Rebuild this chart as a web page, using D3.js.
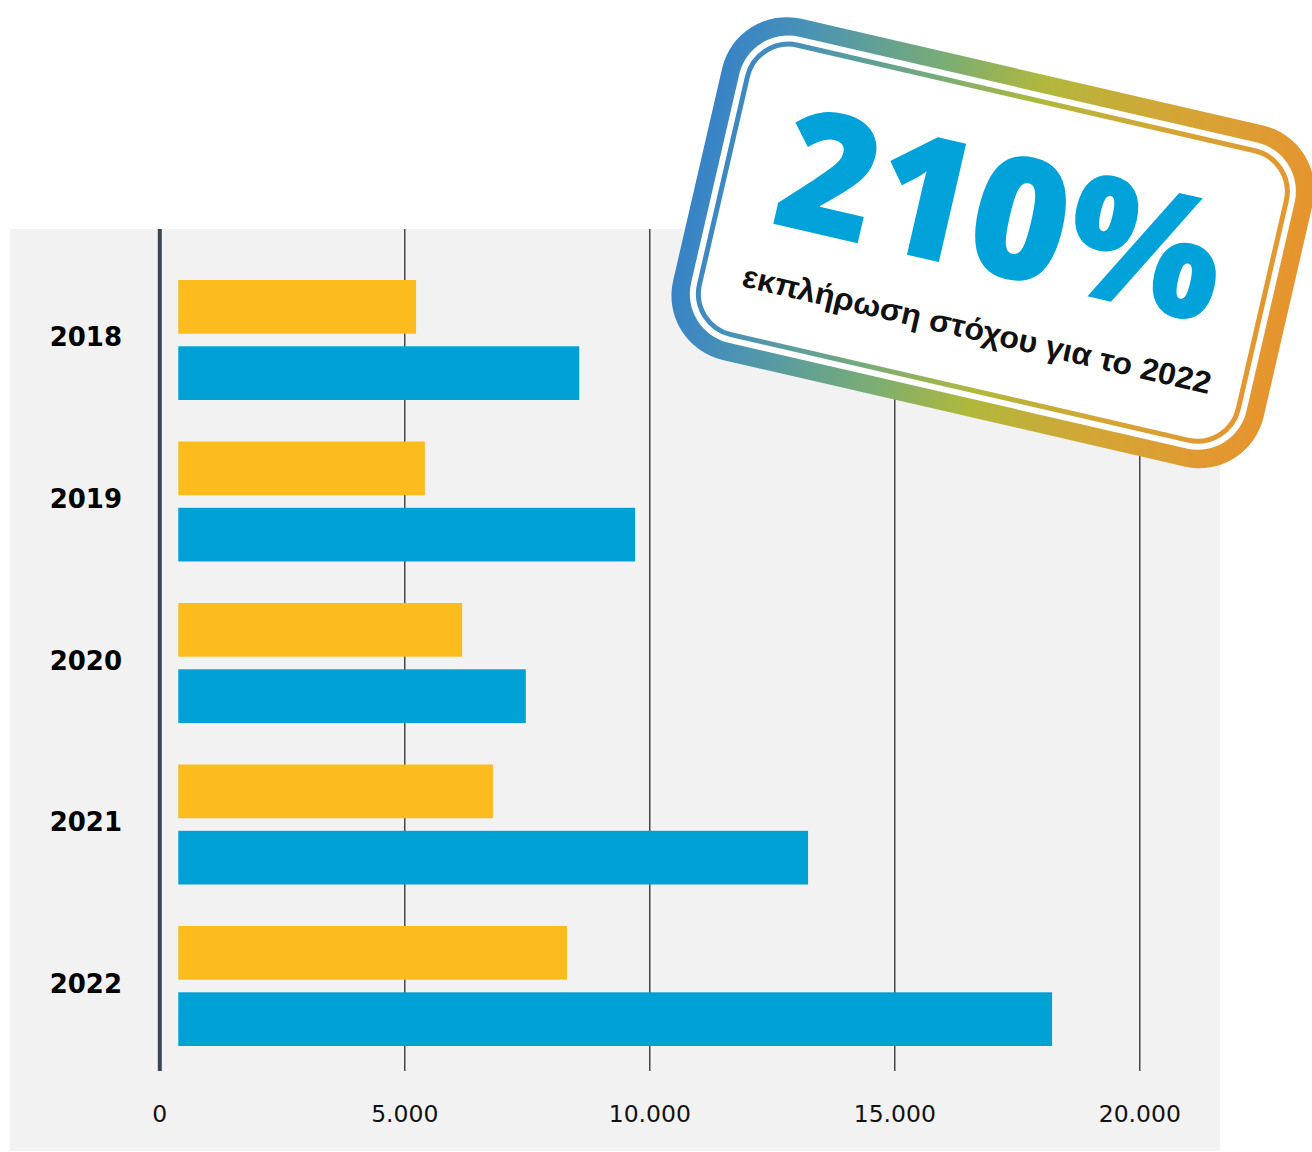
<!DOCTYPE html>
<html>
<head>
<meta charset="utf-8">
<script src="https://cdn.jsdelivr.net/npm/d3@7"></script>
<style>
  html, body { margin: 0; padding: 0; background: #ffffff; }
  svg { display: block; }
</style>
</head>
<body>
<script>
// ---- data ----
const years = ["2018", "2019", "2020", "2021", "2022"];
const targetValues = [5240, 5420, 6180, 6810, 8320];      // yellow bars
const actualValues = [8570, 9710, 7480, 13240, 18220];    // blue bars
const tickValues = [0, 5000, 10000, 15000, 20000];
const badgeValue = "210%";
const badgeCaption = "εκπλήρωση στόχου για το 2022";

// ---- setup ----
const W = 1312, H = 1152;
const svg = d3.select("body").append("svg").attr("width", W).attr("height", H);

const panel = { x: 10, y: 229, w: 1210, h: 922 };
const plotBottom = 1071;

svg.append("rect")
  .attr("x", panel.x).attr("y", panel.y)
  .attr("width", panel.w).attr("height", panel.h)
  .attr("fill", "#f2f2f2");

const x = d3.scaleLinear().domain([0, 20000]).range([159.3, 1139.3]);
const y = d3.scaleBand().domain(years).range([280, 1046]).paddingInner(0.257);
const sub = d3.scaleBand().domain(["target", "actual"]).range([0, y.bandwidth()]).paddingInner(0.19);

const locale = d3.formatLocale({ decimal: ",", thousands: ".", grouping: [3], currency: ["", "€"] });
const fmt = locale.format(",");

// ---- axis / gridlines ----
const axis = d3.axisBottom(x).tickValues(tickValues).tickSize(plotBottom - panel.y).tickFormat(fmt);
const gAxis = svg.append("g").attr("transform", `translate(0,${panel.y})`).call(axis);
gAxis.select(".domain").remove();
gAxis.selectAll(".tick line")
  .attr("stroke", d => d === 0 ? "#3c4651" : "#1c1c1c")
  .attr("stroke-width", d => d === 0 ? 4 : 1.2);
gAxis.selectAll(".tick text")
  .attr("y", 1121.5 - panel.y).attr("dy", null)
  .attr("fill", "#111")
  .style("font-family", "'DejaVu Sans', sans-serif")
  .style("font-size", "23.5px");

// ---- bars ----
const barInset = 19;
const rows = years.map((yr, i) => ({ year: yr, target: targetValues[i], actual: actualValues[i] }));
const colors = { target: "#fcbc1e", actual: "#00a2d6" };

const groups = svg.append("g").selectAll("g").data(rows).join("g")
  .attr("transform", d => `translate(0,${y(d.year)})`);

groups.selectAll("rect").data(d => ["target", "actual"].map(k => ({ key: k, value: d[k] }))).join("rect")
  .attr("x", x(0) + barInset)
  .attr("y", d => sub(d.key))
  .attr("width", d => x(d.value) - x(0) - barInset)
  .attr("height", sub.bandwidth())
  .attr("fill", d => colors[d.key]);

// year labels
svg.append("g").selectAll("text").data(years).join("text")
  .attr("x", 122)
  .attr("y", d => y(d) + y.bandwidth() / 2 + 6.5)
  .attr("text-anchor", "end")
  .attr("fill", "#000")
  .style("font-family", "'DejaVu Sans', sans-serif")
  .style("font-weight", "bold")
  .style("font-size", "26px")
  .text(d => d);

// ---- badge ----
const bw = 606, bh = 350;
const defs = svg.append("defs");
const grad = defs.append("linearGradient").attr("id", "badgeGrad")
  .attr("gradientUnits", "userSpaceOnUse")
  .attr("x1", 0).attr("y1", 0).attr("x2", bw).attr("y2", 0);
[[0, "#3883c7"], [0.12, "#4892b6"], [0.36, "#7bad74"], [0.52, "#b0b83c"], [0.72, "#d2a736"], [1, "#e6942e"]]
  .forEach(([o, c]) => grad.append("stop").attr("offset", o).attr("stop-color", c));

const badge = svg.append("g").attr("transform", "translate(737,4) rotate(13)");
badge.append("rect").attr("x", 0).attr("y", 0).attr("width", bw).attr("height", bh)
  .attr("rx", 66).attr("fill", "url(#badgeGrad)");
badge.append("rect").attr("x", 18).attr("y", 18).attr("width", bw - 36).attr("height", bh - 36)
  .attr("rx", 50).attr("fill", "#ffffff");
badge.append("rect").attr("x", 26.5).attr("y", 26.5).attr("width", bw - 53).attr("height", bh - 53)
  .attr("rx", 42).attr("fill", "none").attr("stroke", "url(#badgeGrad)").attr("stroke-width", 5);

badge.append("text")
  .attr("x", 80).attr("y", 206)
  .attr("textLength", 452).attr("lengthAdjust", "spacingAndGlyphs")
  .attr("fill", "#00a3d9")
  .style("font-family", "'Open Sans', sans-serif")
  .style("font-weight", 800)
  .style("font-size", "170px")
  .text(badgeValue);

badge.append("text")
  .attr("x", 67).attr("y", 274)
  .attr("textLength", 480).attr("lengthAdjust", "spacingAndGlyphs")
  .attr("fill", "#111")
  .style("font-family", "'Liberation Sans', Arial, sans-serif")
  .style("font-weight", "bold")
  .style("font-size", "31px")
  .text(badgeCaption);
</script>
</body>
</html>
